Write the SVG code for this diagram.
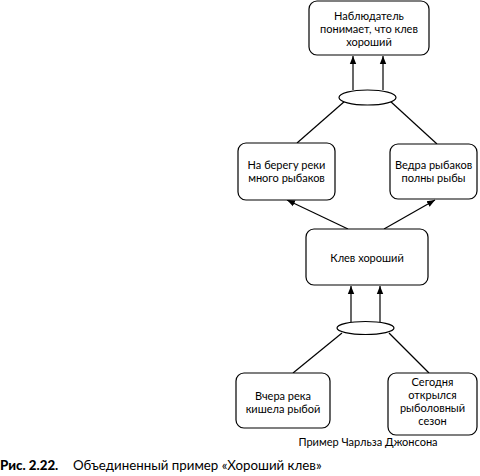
<svg xmlns="http://www.w3.org/2000/svg" width="480" height="476" viewBox="0 0 480 476">
<defs>
<marker id="ah" viewBox="0 0 10 10" refX="10" refY="5" markerWidth="8" markerHeight="8" markerUnits="userSpaceOnUse" orient="auto">
<path d="M0,1 L10,5 L0,9 z" fill="#000"/>
</marker>
<style>
.box{fill:#fff;stroke:#000;stroke-width:1.2}
.t{font-family:Lato,"Open Sans",sans-serif;font-size:11px;fill:#000;text-anchor:middle}
.ln{stroke:#000;stroke-width:1.2;fill:none}
.ar{stroke:#000;stroke-width:1.2;fill:none;marker-end:url(#ah)}
.cap{font-family:Lato,"Open Sans",sans-serif;font-size:13.3px;fill:#000}
</style>
</defs>
<rect width="480" height="476" fill="#fff"/>
<g id="connectors">
<line class="ar" x1="353" y1="90" x2="353" y2="56"/>
<line class="ar" x1="383" y1="90" x2="383" y2="56"/>
<line class="ln" x1="345" y1="101" x2="297" y2="143"/>
<line class="ln" x1="390" y1="101" x2="437" y2="144"/>
<line class="ar" x1="348" y1="229" x2="287" y2="200"/>
<line class="ar" x1="384" y1="229" x2="435" y2="200"/>
<line class="ar" x1="351" y1="322" x2="351" y2="286"/>
<line class="ar" x1="380" y1="322" x2="380" y2="286"/>
<line class="ln" x1="342" y1="333" x2="293" y2="373"/>
<line class="ln" x1="389" y1="333" x2="429" y2="373"/>
</g>
<g id="and-top"><ellipse class="box" cx="367.5" cy="97.5" rx="28.5" ry="7.5"/></g>
<g id="and-bottom"><ellipse class="box" cx="365.5" cy="328" rx="28.5" ry="6.5"/></g>
<g id="observer">
<rect class="box" x="309" y="1" width="120" height="54" rx="8"/>
<text class="t" x="369" y="20">Наблюдатель</text>
<text class="t" x="369" y="33">понимает, что клев</text>
<text class="t" x="369" y="46">хороший</text>
</g>
<g id="shore">
<rect class="box" x="238" y="143" width="97" height="57" rx="8"/>
<text class="t" x="286.5" y="169">На берегу реки</text>
<text class="t" x="286.5" y="182">много рыбаков</text>
</g>
<g id="buckets">
<rect class="box" x="390" y="144" width="87" height="55" rx="8"/>
<text class="t" x="433.5" y="169">Ведра рыбаков</text>
<text class="t" x="433.5" y="182">полны рыбы</text>
</g>
<g id="good-bite">
<rect class="box" x="306" y="229" width="122" height="56" rx="8"/>
<text class="t" x="367" y="262">Клев хороший</text>
</g>
<g id="yesterday">
<rect class="box" x="236" y="373" width="94" height="55" rx="8"/>
<text class="t" x="283" y="400">Вчера река</text>
<text class="t" x="283" y="413">кишела рыбой</text>
</g>
<g id="season">
<rect class="box" x="388" y="373" width="89" height="62" rx="8"/>
<text class="t" x="432.5" y="386">Сегодня</text>
<text class="t" x="432.5" y="399">открылся</text>
<text class="t" x="432.5" y="412">рыболовный</text>
<text class="t" x="432.5" y="425">сезон</text>
</g>
<text class="t" x="368" y="446">Пример Чарльза Джонсона</text>
<text class="cap" x="0" y="470"><tspan font-weight="900">Рис. 2.22.</tspan><tspan x="73">Объединенный пример «Хороший клев»</tspan></text>
</svg>
